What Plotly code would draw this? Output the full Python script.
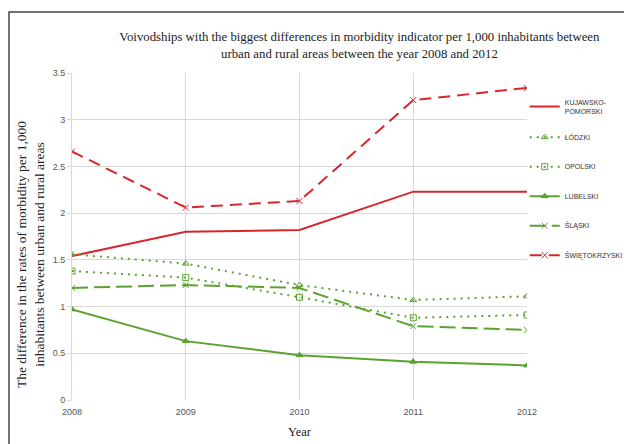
import plotly.graph_objects as go

years = [2008, 2009, 2010, 2011, 2012]
kujawsko = [1.54, 1.80, 1.82, 2.23, 2.23]
lodzki = [1.56, 1.46, 1.23, 1.07, 1.11]
opolski = [1.38, 1.31, 1.10, 0.88, 0.91]
lubelski = [0.97, 0.63, 0.48, 0.41, 0.37]
slaski = [1.20, 1.23, 1.20, 0.79, 0.75]
swietokrzyski = [2.66, 2.06, 2.13, 3.21, 3.34]

RED = "#d7262e"
GREEN = "#5ba331"

series = [
    ("KUJAWSKO-<br>POMORSKI", kujawsko, RED, "solid", None),
    ("ŁÓDZKI", lodzki, GREEN, "2px,5px", "triangle-up-open"),
    ("OPOLSKI", opolski, GREEN, "2px,5px", "square-open"),
    ("LUBELSKI", lubelski, GREEN, "solid", "triangle-up"),
    ("ŚLĄSKI", slaski, GREEN, "16px,6px", "x-thin"),
    ("ŚWIĘTOKRZYSKI", swietokrzyski, RED, "12px,7px", "x-thin"),
]

fig = go.Figure()
for i, (name, vals, col, dash, sym) in enumerate(series):
    mode = "lines" if sym is None else "lines+markers"
    fig.add_trace(go.Scatter(
        x=years, y=vals, name=name, mode=mode, legendgroup=str(i),
        line=dict(color=col, width=2, dash=dash),
        marker=dict(symbol=sym or "circle", size=6, color=col,
                    line=dict(color=col, width=1)),
    ))

fig.update_layout(
    width=632, height=444,
    margin=dict(l=64, r=113, t=65, b=52, autoexpand=False),
    paper_bgcolor="white", plot_bgcolor="white",
    showlegend=True,
    title=dict(
        text="Voivodships with the biggest differences in morbidity indicator per 1,000 inhabitants between<br>urban and rural areas between the year 2008 and 2012",
        x=0.556, xref="container", xanchor="center",
        y=1 - 33 / 444, yref="container", yanchor="top",
        font=dict(family="Liberation Serif", size=12.8, color="#222"),
    ),
    legend=dict(
        x=0.995, xanchor="left", y=0.945, yanchor="top",
        font=dict(family="Liberation Sans", size=7, color="#333"),
        tracegroupgap=10.5, bgcolor="rgba(0,0,0,0)",
        itemwidth=30,
    ),
    font=dict(family="Liberation Sans", size=9, color="#555"),
)
fig.update_xaxes(
    range=[2008, 2012], tickvals=years, ticktext=[str(y) for y in years],
    showgrid=True, gridcolor="#d9d9d9", gridwidth=1,
    showline=False, zeroline=False, automargin=False,
    tickfont=dict(family="Liberation Sans", size=9, color="#555"),
    ticks="outside", ticklen=3, tickcolor="rgba(0,0,0,0)",
    title=dict(text="Year", font=dict(family="Liberation Serif", size=12.5, color="#222"), standoff=11),
)
fig.update_yaxes(
    range=[0, 3.5], tickvals=[0, 0.5, 1, 1.5, 2, 2.5, 3, 3.5],
    ticktext=["0", "0.5", "1", "1.5", "2", "2.5", "3", "3.5"],
    showgrid=True, gridcolor="#d9d9d9", gridwidth=1,
    showline=True, linecolor="#d9d9d9", zeroline=False, automargin=False,
    tickfont=dict(family="Liberation Sans", size=9, color="#555"),
    ticks="outside", ticklen=4, tickcolor="#d9d9d9",
)
fig.add_annotation(
    text="The difference in the rates of morbidity per 1,000<br>inhabitants between urban and rural areas",
    xref="paper", yref="paper", x=-42 / 455, y=(400 - 255) / 327,
    xanchor="center", yanchor="middle", textangle=-90, showarrow=False,
    font=dict(family="Liberation Serif", size=13.5, color="#222"),
)
fig.add_shape(type="rect", xref="paper", yref="paper",
              x0=-63 / 455, x1=1.5, y0=-0.5, y1=(400 - 12) / 327,
              line=dict(color="#444", width=1.5), fillcolor="rgba(0,0,0,0)", layer="above")
fig.write_html("out.html")
